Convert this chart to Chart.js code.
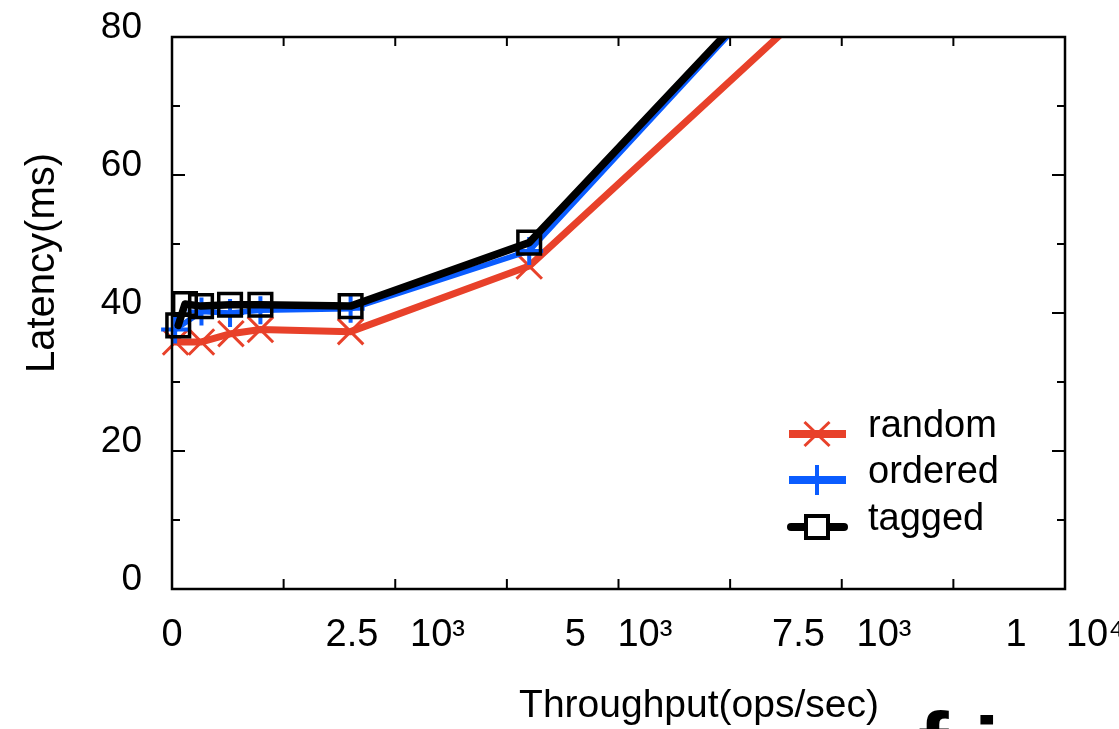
<!DOCTYPE html>
<html>
<head>
<meta charset="utf-8">
<script src="https://cdn.jsdelivr.net/npm/chart.js@4.4.1/dist/chart.umd.min.js"></script>
<style>
    html, body { margin: 0; padding: 0; background: #fff; }
    #wrap { width: 1119px; height: 729px; position: relative; }
</style>
</head>
<body>
<div id="wrap"><canvas id="chart"></canvas></div>
<script>
const seriesNames = ['random', 'ordered', 'tagged'];

// throughput (ops/sec) and latency (ms)
const randomX = [40, 330, 660, 990, 2000, 4000, 8000];
const randomY = [35.8, 35.8, 37.0, 37.6, 37.3, 46.8, 94.5];

const orderedX = [35, 330, 650, 990, 2000, 4000, 8000];
const orderedY = [37.6, 40.2, 40.0, 40.4, 40.6, 49.0, 105.0];

const taggedX = [70, 145, 325, 650, 990, 2000, 4000, 8000];
const taggedY = [38.2, 41.3, 41.0, 41.2, 41.2, 41.0, 50.2, 105.1];

const xTickValues = [0, 2500, 5000, 7500, 10000];
const xTickLabels = ['0', '2.5   10\u00b3', '5   10\u00b3', '7.5   10\u00b3', '1   \u200910\u2074'];
const yTickValues = [0, 20, 40, 60, 80];

const FONT = "'Liberation Sans', Arial, Helvetica, sans-serif";
Chart.defaults.font.family = FONT;
Chart.defaults.color = '#000';

function points(xs, ys) {
    return xs.map((x, i) => ({ x: x, y: ys[i] }));
}

function seg(c, x1, y1, x2, y2) {
    c.beginPath();
    c.moveTo(x1, y1);
    c.lineTo(x2, y2);
    c.stroke();
}

function legendMarker(c, style, color, x, y) {
    c.strokeStyle = color;
    if (style === 'crossRot') {
        c.lineWidth = 3;
        seg(c, x - 12.5, y - 12, x + 12.5, y + 12);
        seg(c, x - 12.5, y + 12, x + 12.5, y - 12);
    } else if (style === 'cross') {
        c.lineWidth = 4;
        seg(c, x, y - 15, x, y + 15);
        seg(c, x - 15, y, x + 15, y);
    } else {
        c.lineWidth = 4;
        c.fillStyle = '#fff';
        c.fillRect(x - 11, y - 11, 22, 22);
        c.strokeRect(x - 11, y - 11, 22, 22);
    }
}

const framePlugin = {
    id: 'frame',
    afterDraw(chart) {
        const c = chart.ctx;
        const a = chart.chartArea;
        const xs = chart.scales.x;
        const ys = chart.scales.y;
        c.save();
        c.strokeStyle = '#000';
        c.lineWidth = 2;
        c.lineCap = 'butt';
        // inside ticks, mirrored on all four sides
        for (let v = ys.min; v <= ys.max; v += 10) {
            const py = ys.getPixelForValue(v);
            const len = yTickValues.includes(v) ? 13 : 8;
            seg(c, a.left, py, a.left + len, py);
            seg(c, a.right, py, a.right - len, py);
        }
        for (let v = xs.min; v <= xs.max; v += 1250) {
            const px = xs.getPixelForValue(v);
            seg(c, px, a.bottom, px, a.bottom - 10);
            seg(c, px, a.top, px, a.top + 9);
        }
        c.lineWidth = 2.5;
        c.strokeRect(a.left, a.top, a.right - a.left, a.bottom - a.top);

        // key
        const rows = [434, 480, 527];
        chart.data.datasets.forEach((ds, i) => {
            const y = rows[i];
            c.strokeStyle = ds.borderColor;
            c.lineWidth = 8;
            c.lineCap = i === 2 ? 'round' : 'butt';
            if (i === 2) seg(c, 791, y, 844, y); else seg(c, 789, y, 846, y);
            c.lineCap = 'butt';
            legendMarker(c, ds.pointStyle, ds.borderColor, 817, y);
            c.fillStyle = '#000';
            c.font = '38px ' + FONT;
            c.textAlign = 'left';
            c.textBaseline = 'alphabetic';
            c.fillText(ds.label, 868, y + 3);
        });

        // axis titles
        c.fillStyle = '#000';
        c.font = '39px ' + FONT;
        c.textAlign = 'center';
        c.textBaseline = 'alphabetic';
        c.fillText('Throughput(ops/sec)', 699, 717);
        c.save();
        c.translate(54, 263);
        c.rotate(-Math.PI / 2);
        c.font = '40px ' + FONT;
        c.fillText('Latency(ms)', 0, 0);
        c.restore();

        // clipped bit of the caption below the figure
        c.font = 'bold 92px ' + FONT;
        c.textAlign = 'left';
        c.fillText('f', 918, 777);
        c.fillText('i', 974, 782);
        c.restore();
    }
};

const ctx = document.getElementById('chart').getContext('2d');
new Chart(ctx, {
    type: 'scatter',
    data: {
        datasets: [
            {
                label: seriesNames[0],
                data: points(randomX, randomY),
                showLine: true,
                borderColor: '#e8412a',
                borderWidth: 7,
                pointStyle: 'crossRot',
                pointRadius: 18,
                pointBorderWidth: 3,
                pointBorderColor: '#e8412a',
                pointBackgroundColor: 'rgba(0,0,0,0)',
                borderJoinStyle: 'round',
                borderCapStyle: 'round',
                clip: { left: 20, top: 0, right: 0, bottom: 20 },
                order: 2
            },
            {
                label: seriesNames[1],
                data: points(orderedX, orderedY),
                showLine: true,
                borderColor: '#0a5cff',
                borderWidth: 5.5,
                pointStyle: 'cross',
                pointRadius: 14,
                pointBorderWidth: 4,
                pointBorderColor: '#0a5cff',
                pointBackgroundColor: 'rgba(0,0,0,0)',
                borderJoinStyle: 'round',
                borderCapStyle: 'round',
                clip: { left: 20, top: 0, right: 0, bottom: 20 },
                order: 1
            },
            {
                label: seriesNames[2],
                data: points(taggedX, taggedY),
                showLine: true,
                borderColor: '#000000',
                borderWidth: 7.5,
                pointStyle: 'rect',
                pointRadius: 16,
                pointBorderWidth: 3.5,
                pointBorderColor: '#000000',
                pointBackgroundColor: 'rgba(0,0,0,0)',
                borderJoinStyle: 'round',
                borderCapStyle: 'round',
                clip: { left: 20, top: 0, right: 0, bottom: 20 },
                order: 0
            }
        ]
    },
    options: {
        animation: false,
        responsive: true,
        maintainAspectRatio: false,
        layout: { padding: { top: 37, right: 54, left: 0, bottom: 0 } },
        plugins: {
            legend: { display: false },
            tooltip: { enabled: false }
        },
        scales: {
            x: {
                type: 'linear',
                min: 0,
                max: 10000,
                grid: { display: false, drawTicks: false },
                border: { display: false },
                afterBuildTicks: s => { s.ticks = xTickValues.map(v => ({ value: v })); },
                afterFit: s => { s.height = 140; s.paddingLeft = 0; s.paddingRight = 0; },
                ticks: {
                    autoSkip: false,
                    maxRotation: 0,
                    padding: 24,
                    font: { size: 38 },
                    callback: v => xTickLabels[xTickValues.indexOf(v)]
                }
            },
            y: {
                min: 0,
                max: 80,
                grid: { display: false, drawTicks: false },
                border: { display: false },
                afterBuildTicks: s => { s.ticks = yTickValues.map(v => ({ value: v })); },
                afterFit: s => { s.width = 172; s.paddingTop = 0; s.paddingBottom = 0; },
                ticks: {
                    padding: 30,
                    labelOffset: -9,
                    font: { size: 37 }
                }
            }
        }
    },
    plugins: [framePlugin]
});
</script>
</body>
</html>
